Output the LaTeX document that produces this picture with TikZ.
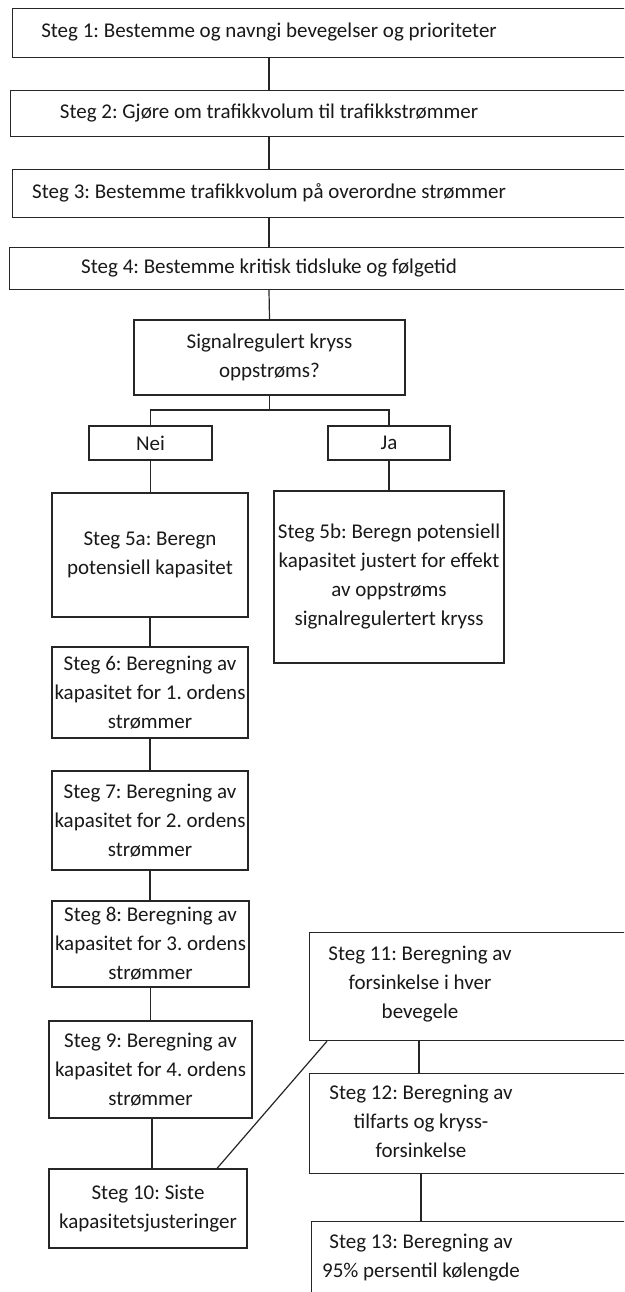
\documentclass[tikz,border=0pt]{standalone}
\usepackage{fontspec}
\setmainfont{Carlito}
\frenchspacing
\usetikzlibrary{calc}
\tikzset{
  boxline/.style={draw=black!85, line width=1.2pt},
  txt/.style={font=\fontsize{21}{29}\selectfont, align=center, inner sep=0pt, text=black!90},
  widebox/.style={boxline, anchor=north west, inner sep=0pt},
  stepbox/.style={boxline, txt},
  conn/.style={draw=black!85, line width=1.2pt},
}
\begin{document}
\begin{tikzpicture}[x=1pt, y=-1pt]
\useasboundingbox (0,0) rectangle (624,1292);
\clip (0,0) rectangle (624,1292);
\fill[white] (0,0) rectangle (624,1292);

% steps 1-4: full-width boxes running past the right edge
\node[widebox, minimum width=640pt, minimum height=49pt] (b1) at (12,8) {};
\node[txt] (t1) at (269,32.5) {Steg 1: Bestemme og navngi bevegelser og prioriteter};
\node[widebox, minimum width=640pt, minimum height=46pt] (b2) at (9.5,90) {};
\node[txt] (t2) at (269,113) {Steg 2: Gjøre om trafikkvolum til trafikkstrømmer};
\node[widebox, minimum width=640pt, minimum height=48pt] (b3) at (12,169) {};
\node[txt] (t3) at (269,193) {Steg 3: Bestemme trafikkvolum på overordne strømmer};
\node[widebox, minimum width=640pt, minimum height=42pt] (b4) at (9,247) {};
\node[txt] (t4) at (269,268) {Steg 4: Bestemme kritisk tidsluke og følgetid};

% decision
\node[stepbox, minimum width=271pt, minimum height=75pt] (dec) at (269.5,357.5) {Signalregulert kryss\\oppstrøms?};
\node[stepbox, minimum width=123pt, minimum height=34pt] (nei) at (150.5,443) {Nei};
\node[stepbox, minimum width=122pt, minimum height=34pt] (ja) at (389,443) {Ja};
\coordinate (fork) at (269.5,410);

% left branch
\node[stepbox, minimum width=196pt, minimum height=124pt] (s5a) at (150,555) {Steg 5a: Beregn\\potensiell kapasitet};
\node[stepbox, minimum width=230pt, minimum height=172pt] (s5b) at (389,577) {Steg 5b: Beregn potensiell\\kapasitet justert for effekt\\av oppstrøms\\signalregulertert kryss};
\node[stepbox, minimum width=196pt, minimum height=91pt] (s6) at (150,692.5) {Steg 6: Beregning av\\kapasitet for 1. ordens\\strømmer};
\node[stepbox, minimum width=196pt, minimum height=99pt] (s7) at (150,820.5) {Steg 7: Beregning av\\kapasitet for 2. ordens\\strømmer};
\node[stepbox, minimum width=197pt, minimum height=86pt] (s8) at (150.5,944) {Steg 8: Beregning av\\kapasitet for 3. ordens\\strømmer};
\node[stepbox, minimum width=203pt, minimum height=97pt] (s9) at (150.5,1069.5) {Steg 9: Beregning av\\kapasitet for 4. ordens\\strømmer};
\node[stepbox, minimum width=198pt, minimum height=79pt] (s10) at (148,1208.5) {Steg 10: Siste\\kapasitetsjusteringer};

% right column: boxes running past the right edge
\node[widebox, minimum width=330pt, minimum height=108pt] (b11) at (309,932) {};
\node[txt] (t11) at (420,984) {Steg 11: Beregning av\\forsinkelse i hver\\bevegele};
\node[widebox, minimum width=330pt, minimum height=100pt] (b12) at (309,1073) {};
\node[txt] (t12) at (421,1121.5) {Steg 12: Beregning av\\tilfarts og kryss-\\forsinkelse};
\node[widebox, minimum width=330pt, minimum height=100pt] (b13) at (311,1221) {};
\node[txt] (t13) at (421,1258) {Steg 13: Beregning av\\95\% persentil kølengde};

% connectors
\draw[conn] (t1 |- b1.south) -- (t1 |- b2.north);
\draw[conn] (t2 |- b2.south) -- (t2 |- b3.north);
\draw[conn] (t3 |- b3.south) -- (t3 |- b4.north);
\draw[conn] (t4 |- b4.south) -- (dec.north);
\draw[conn] (dec.south) -- (fork);
\draw[conn] (nei.north) |- (fork) -| (ja.north);
\draw[conn] (nei.south) -- (nei.south |- s5a.north);
\draw[conn] (ja.south) -- (ja.south |- s5b.north);
\draw[conn] (s5a.south) -- (s5a.south |- s6.north);
\draw[conn] (s6.south) -- (s6.south |- s7.north);
\draw[conn] (s7.south) -- (s7.south |- s8.north);
\draw[conn] (s8.south) -- (s8.south |- s9.north);
\draw[conn] ([xshift=1.5pt]s9.south) -- ([xshift=1.5pt]s9.south |- s10.north);
\draw[conn] ([xshift=69pt]s10.north) -- ([xshift=18pt]b11.south west);
\draw[conn] ([xshift=-1pt]t11 |- b11.south) -- ([xshift=-1pt]t11 |- b12.north);
\draw[conn] (t12 |- b12.south) -- (t12 |- b13.north);
\end{tikzpicture}
\end{document}
